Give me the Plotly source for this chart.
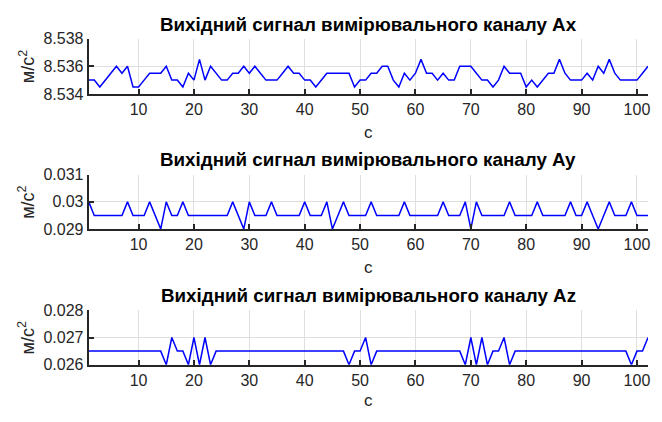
import plotly.graph_objects as go

# Sample index (seconds)
t = list(range(1, 103))

ax_vals = [
    8.535, 8.535, 8.5345, 8.535, 8.5355, 8.536, 8.5355, 8.536, 8.5345, 8.5345,
    8.535, 8.5355, 8.5355, 8.5355, 8.536, 8.535, 8.535, 8.5345, 8.5355, 8.535,
    8.5365, 8.535, 8.536, 8.5355, 8.535, 8.535, 8.5355, 8.5355, 8.536, 8.5355,
    8.536, 8.5355, 8.535, 8.535, 8.535, 8.5355, 8.536, 8.5355, 8.5355, 8.535,
    8.535, 8.5345, 8.535, 8.5355, 8.5355, 8.5355, 8.5355, 8.5355, 8.5345, 8.535,
    8.535, 8.5355, 8.5355, 8.536, 8.536, 8.535, 8.5345, 8.5355, 8.535, 8.5355,
    8.5365, 8.5355, 8.5355, 8.535, 8.5355, 8.535, 8.535, 8.536, 8.536, 8.536,
    8.5355, 8.535, 8.535, 8.5345, 8.535, 8.536, 8.5355, 8.5355, 8.5355, 8.5345,
    8.535, 8.5345, 8.535, 8.5355, 8.5355, 8.5365, 8.5355, 8.535, 8.535, 8.535,
    8.5355, 8.535, 8.536, 8.5355, 8.5365, 8.5355, 8.535, 8.535, 8.535, 8.535,
    8.5355, 8.536,
]

ay_vals = [
    0.030, 0.0295, 0.0295, 0.0295, 0.0295, 0.0295, 0.0295, 0.030, 0.0295, 0.0295,
    0.0295, 0.030, 0.0295, 0.029, 0.030, 0.0295, 0.0295, 0.030, 0.0295, 0.0295,
    0.0295, 0.0295, 0.0295, 0.0295, 0.0295, 0.0295, 0.030, 0.0295, 0.029, 0.030,
    0.0295, 0.0295, 0.0295, 0.030, 0.0295, 0.0295, 0.0295, 0.0295, 0.0295, 0.030,
    0.0295, 0.0295, 0.0295, 0.030, 0.029, 0.0295, 0.030, 0.0295, 0.0295, 0.0295,
    0.0295, 0.030, 0.0295, 0.0295, 0.0295, 0.0295, 0.0295, 0.030, 0.0295, 0.0295,
    0.0295, 0.0295, 0.0295, 0.0295, 0.030, 0.0295, 0.0295, 0.0295, 0.030, 0.029,
    0.030, 0.0295, 0.0295, 0.0295, 0.0295, 0.0295, 0.030, 0.0295, 0.0295, 0.0295,
    0.0295, 0.030, 0.0295, 0.0295, 0.0295, 0.0295, 0.0295, 0.030, 0.0295, 0.0295,
    0.030, 0.0295, 0.029, 0.0295, 0.030, 0.0295, 0.0295, 0.0295, 0.030, 0.0295,
    0.0295, 0.0295,
]

az_vals = [
    0.0265, 0.0265, 0.0265, 0.0265, 0.0265, 0.0265, 0.0265, 0.0265, 0.0265, 0.0265,
    0.0265, 0.0265, 0.0265, 0.0265, 0.026, 0.027, 0.0265, 0.0265, 0.026, 0.027,
    0.026, 0.027, 0.026, 0.0265, 0.0265, 0.0265, 0.0265, 0.0265, 0.0265, 0.0265,
    0.0265, 0.0265, 0.0265, 0.0265, 0.0265, 0.0265, 0.0265, 0.0265, 0.0265, 0.0265,
    0.0265, 0.0265, 0.0265, 0.0265, 0.0265, 0.0265, 0.0265, 0.026, 0.0265, 0.0265,
    0.027, 0.026, 0.0265, 0.0265, 0.0265, 0.0265, 0.0265, 0.0265, 0.0265, 0.0265,
    0.0265, 0.0265, 0.0265, 0.0265, 0.0265, 0.0265, 0.0265, 0.0265, 0.026, 0.027,
    0.026, 0.027, 0.026, 0.0265, 0.0265, 0.027, 0.026, 0.0265, 0.0265, 0.0265,
    0.0265, 0.0265, 0.0265, 0.0265, 0.0265, 0.0265, 0.0265, 0.0265, 0.0265, 0.0265,
    0.0265, 0.0265, 0.0265, 0.0265, 0.0265, 0.0265, 0.0265, 0.0265, 0.026, 0.0265,
    0.0265, 0.027,
]

titles = [
    "Вихідний сигнал вимірювального каналу Ax",
    "Вихідний сигнал вимірювального каналу Ay",
    "Вихідний сигнал вимірювального каналу Az",
]
x_ticks = [10, 20, 30, 40, 50, 60, 70, 80, 90, 100]
y_ticks = [
    [8.534, 8.536, 8.538],
    [0.029, 0.030, 0.031],
    [0.026, 0.027, 0.028],
]
y_tick_text = [
    ["8.534", "8.536", "8.538"],
    ["0.029", "0.03", "0.031"],
    ["0.026", "0.027", "0.028"],
]
x_label = "с"
y_label = "м/с<sup>2</sup>"

W, H = 662, 422
FONT = "Liberation Sans, Arial, sans-serif"
AXIS_COLOR = "#262626"
GRID_COLOR = "#dfdfdf"

# Plot-area boxes in pixels: left, right, top, bottom
x_left, x_right = 89, 650
boxes_y = [(32, 89.5), (173.7, 230.3), (315, 371.7)]
title_y = [17.5, 158, 300]
xlabel_y = [130, 270, 409]

fig = go.Figure()
series = [ax_vals, ay_vals, az_vals]

for i, (vals, (top, bot)) in enumerate(zip(series, boxes_y)):
    n = "" if i == 0 else str(i + 1)
    fig.add_trace(go.Scatter(
        x=t, y=vals, mode="lines",
        line=dict(color="#0000ff", width=1.5),
        xaxis="x" + n, yaxis="y" + n, showlegend=False,
    ))
    dom_x = [x_left / W, x_right / W]
    dom_y = [1 - bot / H, 1 - top / H]
    fig.layout["xaxis" + n] = dict(
        domain=dom_x, range=[1, 102], anchor="y" + n,
        tickvals=x_ticks, ticks="inside", ticklen=5, tickwidth=1.5,
        tickcolor=AXIS_COLOR, showline=True, linecolor=AXIS_COLOR, linewidth=2,
        showgrid=True, gridcolor=GRID_COLOR, gridwidth=1, zeroline=False,
        tickfont=dict(family=FONT, size=16, color=AXIS_COLOR),
    )
    fig.layout["yaxis" + n] = dict(
        domain=dom_y, range=[y_ticks[i][0], y_ticks[i][-1]], anchor="x" + n,
        tickvals=y_ticks[i], ticktext=y_tick_text[i],
        ticks="inside", ticklen=5, tickwidth=1.5, tickcolor=AXIS_COLOR,
        showline=True, linecolor=AXIS_COLOR, linewidth=2,
        showgrid=True, gridcolor=GRID_COLOR, gridwidth=1, zeroline=False,
        tickfont=dict(family=FONT, size=16, color=AXIS_COLOR),
    )
    # Title above each panel
    fig.add_annotation(
        text="<b>" + titles[i] + "</b>", xref="paper", yref="paper",
        x=(x_left + x_right) / 2 / W, y=1 - title_y[i] / H,
        xanchor="center", yanchor="middle", showarrow=False,
        font=dict(family=FONT, size=18.8, color="#000000"),
    )
    # x-axis label
    fig.add_annotation(
        text=x_label, xref="paper", yref="paper",
        x=(x_left + x_right) / 2 / W, y=1 - xlabel_y[i] / H,
        xanchor="center", yanchor="middle", showarrow=False,
        font=dict(family=FONT, size=17, color=AXIS_COLOR),
    )
    # y-axis label
    fig.add_annotation(
        text=y_label, xref="paper", yref="paper",
        x=27 / W, y=1 - (top + bot) / 2 / H,
        xanchor="center", yanchor="middle", showarrow=False, textangle=-90,
        font=dict(family=FONT, size=18, color=AXIS_COLOR),
    )

fig.update_layout(
    width=W, height=H,
    margin=dict(l=0, r=0, t=0, b=0),
    paper_bgcolor="white", plot_bgcolor="white",
)

fig.write_html("out.html")
